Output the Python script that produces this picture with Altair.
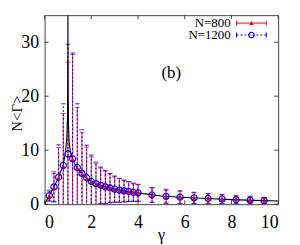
import altair as alt
import pandas as pd

# ---- data ----
gamma = [0.2, 0.4, 0.6, 0.8, 1.0, 1.2, 1.4, 1.6, 1.8, 2.0, 2.2, 2.4, 2.6, 2.8, 3.0,
         3.2, 3.4, 3.6, 3.8, 4.0, 4.6, 5.2, 5.8, 6.4, 7.0, 7.6, 8.2, 8.8, 9.4]
val_800 = [1.5, 3.1, 4.9, 7.0, 9.0, 8.3, 6.7, 5.6, 4.8, 4.1, 3.7, 3.4, 3.1, 2.9, 2.7,
           2.5, 2.4, 2.3, 2.2, 2.1, 1.65, 1.4, 1.28, 1.16, 1.04, 0.92, 0.8, 0.73, 0.62]
err_800 = [0.9, 2.6, 5.6, 9.8, 17.3, 19.4, 11.2, 7.7, 5.8, 4.7, 3.9, 3.3, 3.0, 2.7, 2.4,
           2.2, 2.0, 1.8, 1.6, 1.5, 1.3, 1.2, 1.1, 1.0, 0.9, 0.8, 0.7, 0.65, 0.6]
val_1200 = [1.6, 3.2, 5.0, 7.2, 9.3, 8.4, 6.8, 5.7, 4.9, 4.2, 3.8, 3.5, 3.2, 3.0, 2.8,
            2.6, 2.45, 2.35, 2.2, 2.1, 1.7, 1.45, 1.3, 1.18, 1.05, 0.95, 0.82, 0.75, 0.65]
err_1200 = [1.0, 2.8, 6.0, 11.4, 20.3, 19.6, 11.8, 8.1, 6.0, 4.9, 4.0, 3.4, 3.1, 2.7, 2.4,
            2.2, 2.05, 1.85, 1.7, 1.6, 1.4, 1.3, 1.2, 1.05, 0.95, 0.85, 0.75, 0.7, 0.6]

curve_x = [0, 0.2, 0.4, 0.6, 0.8, 0.9, 0.95, 0.98, 0.995, 1.0, 1.005, 1.02, 1.05, 1.1,
           1.2, 1.4, 1.6, 1.8, 2.0, 2.5, 3.0, 3.5, 4.0, 5, 6, 7, 8, 9, 10]
curve_y = [0, 1.6, 3.2, 5.0, 7.3, 9.8, 12.5, 16, 22, 40, 22, 15, 11.5, 9.8,
           8.2, 6.6, 5.6, 4.8, 4.2, 3.3, 2.8, 2.4, 2.1, 1.5, 1.25, 1.05, 0.85, 0.7, 0.6]

x_ticks = [0, 2, 4, 6, 8, 10]
y_ticks = [0, 10, 20, 30]

W, H = 236, 191
FONT = "Liberation Serif"
RED = "#ff0000"
BLUE = "#0000ff"
FRAME = "#444444"

d800 = pd.DataFrame({"g": gamma, "v": val_800,
                     "lo": [v - e for v, e in zip(val_800, err_800)],
                     "hi": [v + e for v, e in zip(val_800, err_800)]})
d1200 = pd.DataFrame({"g": gamma, "v": val_1200,
                      "lo": [v - e for v, e in zip(val_1200, err_1200)],
                      "hi": [v + e for v, e in zip(val_1200, err_1200)]})
dcurve = pd.DataFrame({"g": curve_x, "v": curve_y})
dxt = pd.DataFrame({"g": x_ticks})
dyt = pd.DataFrame({"v": y_ticks})
one = pd.DataFrame({"a": [0]})

xs = alt.Scale(domain=[0, 10], nice=False)
ys = alt.Scale(domain=[0, 35], nice=False)

AX = alt.Axis(values=x_ticks, title=None, format="d",
              ticks=False, domain=False, grid=False,
              labelFont=FONT, labelFontSize=18, labelColor="black", labelPadding=10)
AY = alt.Axis(values=y_ticks, title=None, format="d",
              ticks=False, domain=False, grid=False,
              labelFont=FONT, labelFontSize=18, labelColor="black", labelPadding=6)

def XA(f):
    return alt.X(f, scale=xs, axis=AX, title=None)

def YA(f):
    return alt.Y(f, scale=ys, axis=AY, title=None)

def bars(df, color, dash):
    base = alt.Chart(df)
    rule = base.mark_rule(color=color, strokeWidth=1, strokeDash=dash, clip=True).encode(
        x=XA("g:Q"), y=YA("lo:Q"), y2="hi:Q")
    cap_lo = base.mark_tick(color=color, orient="horizontal", size=5, thickness=1, clip=True).encode(
        x=XA("g:Q"), y=YA("lo:Q"))
    cap_hi = base.mark_tick(color=color, orient="horizontal", size=5, thickness=1, clip=True).encode(
        x=XA("g:Q"), y=YA("hi:Q"))
    return rule + cap_lo + cap_hi

curve = alt.Chart(dcurve).mark_line(color="black", strokeWidth=1.1, clip=True).encode(
    x=XA("g:Q"), y=YA("v:Q"))

pts800 = alt.Chart(d800).mark_point(shape="triangle-up", filled=True, size=22, color=RED,
                                    opacity=1, clip=True).encode(x=XA("g:Q"), y=YA("v:Q"))
pts1200 = alt.Chart(d1200).mark_point(shape="circle", filled=False, size=38, color=BLUE,
                                      strokeWidth=1.2, opacity=1, clip=True).encode(
    x=XA("g:Q"), y=YA("v:Q"))

TL = 4
xt_top = alt.Chart(dxt).mark_rule(color=FRAME).encode(
    x=XA("g:Q"), y=alt.value(0), y2=alt.value(TL))
xt_bot = alt.Chart(dxt).mark_rule(color=FRAME).encode(
    x=XA("g:Q"), y=alt.value(H - TL), y2=alt.value(H))
yt_l = alt.Chart(dyt).mark_rule(color=FRAME).encode(
    y=YA("v:Q"), x=alt.value(0), x2=alt.value(TL))
yt_r = alt.Chart(dyt).mark_rule(color=FRAME).encode(
    y=YA("v:Q"), x=alt.value(W - TL), x2=alt.value(W))

# legend (inside, top-right)
LX0, LX1, LXM = 194, 224, 209
LY1, LY2 = 8, 20
leg = alt.Chart(one)
legend = (
    leg.mark_text(font=FONT, fontSize=13, align="right", baseline="middle", color="black").encode(
        x=alt.value(188), y=alt.value(LY1), text=alt.value("N=800"))
    + leg.mark_text(font=FONT, fontSize=13, align="right", baseline="middle", color="black").encode(
        x=alt.value(188), y=alt.value(LY2), text=alt.value("N=1200"))
    + leg.mark_rule(color=RED, strokeWidth=1).encode(x=alt.value(LX0), x2=alt.value(LX1), y=alt.value(LY1))
    + leg.mark_rule(color=RED, strokeWidth=1).encode(x=alt.value(LX0), y=alt.value(LY1 - 2.5), y2=alt.value(LY1 + 2.5))
    + leg.mark_rule(color=RED, strokeWidth=1).encode(x=alt.value(LX1), y=alt.value(LY1 - 2.5), y2=alt.value(LY1 + 2.5))
    + leg.mark_point(shape="triangle-up", filled=True, size=22, color=RED, opacity=1).encode(
        x=alt.value(LXM), y=alt.value(LY1))
    + leg.mark_rule(color=BLUE, strokeWidth=1, strokeDash=[2, 2]).encode(x=alt.value(LX0), x2=alt.value(LX1), y=alt.value(LY2))
    + leg.mark_rule(color=BLUE, strokeWidth=1).encode(x=alt.value(LX0), y=alt.value(LY2 - 2.5), y2=alt.value(LY2 + 2.5))
    + leg.mark_rule(color=BLUE, strokeWidth=1).encode(x=alt.value(LX1), y=alt.value(LY2 - 2.5), y2=alt.value(LY2 + 2.5))
    + leg.mark_point(shape="circle", filled=False, size=30, color=BLUE, strokeWidth=1.2, opacity=1).encode(
        x=alt.value(LXM), y=alt.value(LY2))
)

label_b = leg.mark_text(font=FONT, fontSize=17, align="center", baseline="middle", color="black").encode(
    x=alt.value(128), y=alt.value(58), text=alt.value("(b)"))

# axis titles as text marks
x_title = leg.mark_text(font=FONT, fontSize=16, align="center", baseline="middle", color="black").encode(
    x=alt.value(W / 2), y=alt.value(H + 31), text=alt.value("γ"))
y_title = leg.mark_text(font=FONT, fontSize=15, align="center", baseline="middle", color="black",
                        angle=270).encode(
    x=alt.value(-28), y=alt.value(H / 2 + 4), text=alt.value("N<Γ>"))

chart = alt.layer(
    bars(d800, RED, [1, 0]),
    bars(d1200, BLUE, [2, 2]),
    curve,
    pts800, pts1200,
    xt_top, xt_bot, yt_l, yt_r,
    legend, label_b, x_title, y_title,
).properties(
    width=W, height=H,
    autosize=alt.AutoSizeParams(type="none"),
    padding={"left": 37, "top": 6, "right": 14, "bottom": 40},
).configure_view(
    stroke=FRAME, strokeWidth=1
).configure_axis(
    labelFont=FONT
).configure_text(
    font=FONT
)

chart.save("out.html", embed_options={"renderer": "svg", "actions": False})
